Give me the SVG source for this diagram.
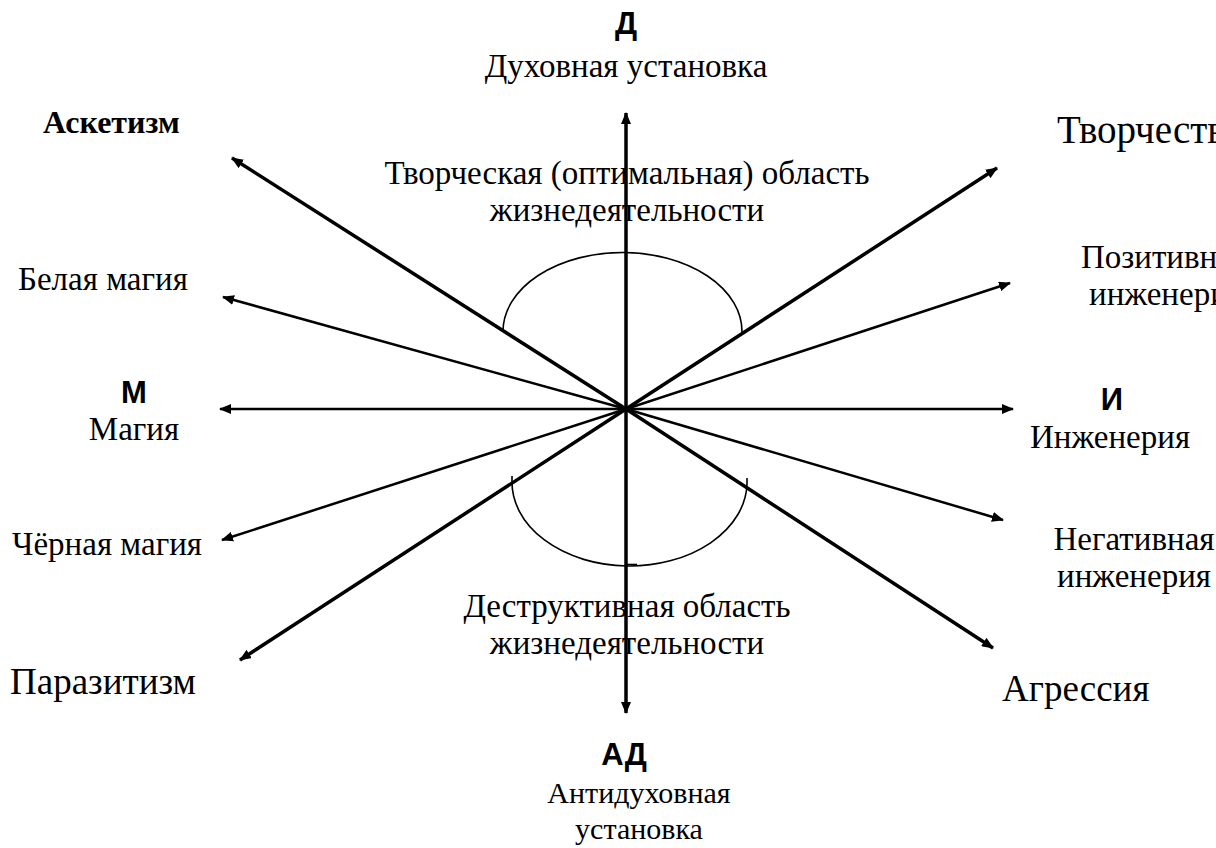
<svg xmlns="http://www.w3.org/2000/svg" width="1216" height="848" viewBox="0 0 1216 848">
<style>
.t{font-family:"Liberation Serif","Times New Roman",serif;font-size:33px;fill:#000}
.big{font-size:37px}
.tb{font-family:"Liberation Serif","Times New Roman",serif;font-size:32px;font-weight:bold;fill:#000}
.s{font-family:"Liberation Sans",Arial,sans-serif;font-size:31px;font-weight:bold;fill:#000}
.m{text-anchor:middle}
.thick{stroke:#000;stroke-width:3.5;fill:none}
.thin{stroke:#000;stroke-width:2.5;fill:none}
.arc{stroke:#000;stroke-width:1.6;fill:none}
</style>
<defs>
<marker id="ah" viewBox="0 0 12 10" refX="11" refY="5" markerWidth="12" markerHeight="10" markerUnits="userSpaceOnUse" orient="auto-start-reverse">
<path d="M0,0 L12,5 L0,10 z" fill="#000"/>
</marker>
</defs>
<rect width="1216" height="848" fill="#fff"/>
<g id="connectors">
<line class="thick" x1="626" y1="713" x2="626" y2="113" marker-start="url(#ah)" marker-end="url(#ah)"/>
<line class="thin" x1="220" y1="409" x2="1013" y2="409" marker-start="url(#ah)" marker-end="url(#ah)"/>
<line class="thick" x1="626" y1="409" x2="232" y2="158" marker-end="url(#ah)"/>
<line class="thick" x1="626" y1="409" x2="997" y2="168" marker-end="url(#ah)"/>
<line class="thick" x1="626" y1="409" x2="240" y2="660" marker-end="url(#ah)"/>
<line class="thick" x1="626" y1="409" x2="993" y2="648" marker-end="url(#ah)"/>
<line class="thin" x1="626" y1="409" x2="223" y2="297" marker-end="url(#ah)"/>
<line class="thin" x1="626" y1="409" x2="1010" y2="283" marker-end="url(#ah)"/>
<line class="thin" x1="626" y1="409" x2="222" y2="540" marker-end="url(#ah)"/>
<line class="thin" x1="626" y1="409" x2="1003" y2="520" marker-end="url(#ah)"/>
<path class="arc" d="M503,331 A119.5,79 0 0 1 742,332"/>
<path class="arc" d="M512,476 L512,480 A117.5,84 0 0 0 747,484 L747,478"/>
<line class="arc" x1="626" y1="564.5" x2="637" y2="564.5"/>
</g>
<g id="node-d">
<text class="s m" x="626" y="34">Д</text>
<text class="t m" x="626" y="77">Духовная установка</text>
</g>
<g id="node-ad">
<text class="s m" x="624" y="765">АД</text>
<text class="t m" x="639" y="803" style="font-size:30px">Антидуховная</text>
<text class="t m" x="639" y="839" style="font-size:30px">установка</text>
</g>
<g id="node-m">
<text class="s m" x="134" y="403">М</text>
<text class="t m" x="134" y="440">Магия</text>
</g>
<g id="node-i">
<text class="s m" x="1112" y="410">И</text>
<text class="t m" x="1110" y="448">Инженерия</text>
</g>
<g id="node-asket">
<text class="tb" x="43" y="133">Аскетизм</text>
</g>
<g id="node-tvor">
<text class="t" x="1057" y="143" style="font-size:39px">Творчество</text>
</g>
<g id="node-belaya">
<text class="t" x="18" y="290">Белая магия</text>
</g>
<g id="node-poz">
<text class="t m" x="1164" y="268">Позитивная</text>
<text class="t m" x="1166" y="305">инженерия</text>
</g>
<g id="node-chern">
<text class="t" x="12" y="555">Чёрная магия</text>
</g>
<g id="node-neg">
<text class="t m" x="1134" y="550">Негативная</text>
<text class="t m" x="1134" y="587">инженерия</text>
</g>
<g id="node-paraz">
<text class="t big" x="10" y="694">Паразитизм</text>
</g>
<g id="node-agr">
<text class="t big" x="1002" y="701">Агрессия</text>
</g>
<g id="node-opt">
<text class="t m" x="627" y="184">Творческая (оптимальная) область</text>
<text class="t m" x="627" y="221">жизнедеятельности</text>
</g>
<g id="node-destr">
<text class="t m" x="627" y="617">Деструктивная область</text>
<text class="t m" x="627" y="654">жизнедеятельности</text>
</g>
</svg>
